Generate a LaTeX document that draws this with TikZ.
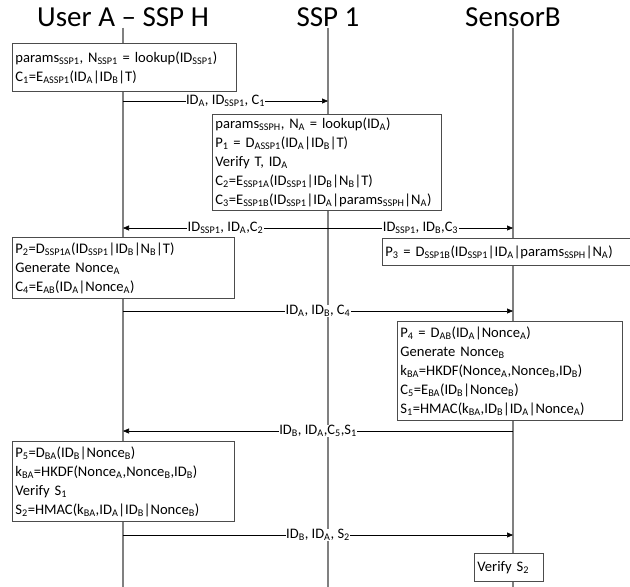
\documentclass[tikz,border=0pt]{standalone}
\usepackage{fontspec}
\setmainfont{Carlito}
\usetikzlibrary{arrows.meta,positioning}
\newcommand{\lo}[1]{\textsubscript{#1}}

\begin{document}
\begin{tikzpicture}[x=1pt,y=-1pt,
    actor/.style={font=\fontsize{29}{32}\selectfont, inner sep=1pt},
    life/.style={draw=black!50, line width=1.3pt},
    work/.style={draw=black!70, fill=white, line width=0.8pt, anchor=north west, align=left, inner xsep=3pt, inner ysep=2pt, font=\fontsize{14.6}{19}\selectfont},
    msg/.style={-{Triangle[length=6pt,width=5pt]}, line width=0.6pt},
    lbl/.style={fill=white, inner sep=0.5pt, font=\fontsize{14.5}{15}\selectfont}
]
    \useasboundingbox (0,0) rectangle (630,587);

    % actors
    \node [actor] (ua) at (123,17) {User A -- SSP H};
    \node [actor] (ssp) at (328,17) {SSP 1};
    \node [actor] (sb) at (513,17) {SensorB};
    \coordinate (bottom) at (0,587);
    \draw [life] (ua.south) -- (ua |- bottom);
    \draw [life] (ssp.south) -- (ssp |- bottom);
    \draw [life] (sb.south) -- (sb |- bottom);

    % processing boxes
    \node [work, text width=218pt, minimum height=48pt] (b1) at (12,43)
        {params\lo{SSP1}, N\lo{SSP1} = lookup(ID\lo{SSP1})\\
         C\lo{1}=E\lo{ASSP1}(ID\lo{A}|ID\lo{B}|T)};
    \node [work, text width=223pt, minimum height=96pt] (b2) at (212,114)
        {params\lo{SSPH}, N\lo{A} = lookup(ID\lo{A})\\
         P\lo{1} = D\lo{ASSP1}(ID\lo{A}|ID\lo{B}|T)\\
         Verify T, ID\lo{A}\\
         C\lo{2}=E\lo{SSP1A}(ID\lo{SSP1}|ID\lo{B}|N\lo{B}|T)\\
         C\lo{3}=E\lo{SSP1B}(ID\lo{SSP1}|ID\lo{A}|params\lo{SSPH}|N\lo{A})};
    \node [work, text width=216pt, minimum height=61pt] (b3) at (12,237)
        {P\lo{2}=D\lo{SSP1A}(ID\lo{SSP1}|ID\lo{B}|N\lo{B}|T)\\
         Generate Nonce\lo{A}\\
         C\lo{4}=E\lo{AB}(ID\lo{A}|Nonce\lo{A})};
    \node [work, text width=244pt, minimum height=27pt] (b4) at (382,238)
        {P\lo{3} = D\lo{SSP1B}(ID\lo{SSP1}|ID\lo{A}|params\lo{SSPH}|N\lo{A})};
    \node [work, text width=219pt, minimum height=99pt] (b5) at (397,321)
        {P\lo{4} = D\lo{AB}(ID\lo{A}|Nonce\lo{A})\\
         Generate Nonce\lo{B}\\
         k\lo{BA}=HKDF(Nonce\lo{A},Nonce\lo{B},ID\lo{B})\\
         C\lo{5}=E\lo{BA}(ID\lo{B}|Nonce\lo{B})\\
         S\lo{1}=HMAC(k\lo{BA},ID\lo{B}|ID\lo{A}|Nonce\lo{A})};
    \node [work, text width=216pt, minimum height=80pt] (b6) at (12,441)
        {P\lo{5}=D\lo{BA}(ID\lo{B}|Nonce\lo{B})\\
         k\lo{BA}=HKDF(Nonce\lo{A},Nonce\lo{B},ID\lo{B})\\
         Verify S\lo{1}\\
         S\lo{2}=HMAC(k\lo{BA},ID\lo{A}|ID\lo{B}|Nonce\lo{B})};
    \node [work, text width=63pt, minimum height=28pt] (b7) at (474,553)
        {Verify S\lo{2}};

    % messages
    \coordinate (m1) at (0,101);
    \coordinate (m2) at (0,228);
    \coordinate (m3) at (0,311);
    \coordinate (m4) at (0,431);
    \coordinate (m5) at (0,535);
    \draw [msg] (ua |- m1) -- node [lbl] {ID\lo{A}, ID\lo{SSP1}, C\lo{1}} (ssp |- m1);
    \draw [msg] (ssp |- m2) -- node [lbl] {ID\lo{SSP1}, ID\lo{A},C\lo{2}} (ua |- m2);
    \draw [msg] (ssp |- m2) -- node [lbl] {ID\lo{SSP1}, ID\lo{B},C\lo{3}} (sb |- m2);
    \draw [msg] (ua |- m3) -- node [lbl] {ID\lo{A}, ID\lo{B}, C\lo{4}} (sb |- m3);
    \draw [msg] (sb |- m4) -- node [lbl] {ID\lo{B}, ID\lo{A},C\lo{5},S\lo{1}} (ua |- m4);
    \draw [msg] (ua |- m5) -- node [lbl] {ID\lo{B}, ID\lo{A}, S\lo{2}} (sb |- m5);
\end{tikzpicture}
\end{document}
